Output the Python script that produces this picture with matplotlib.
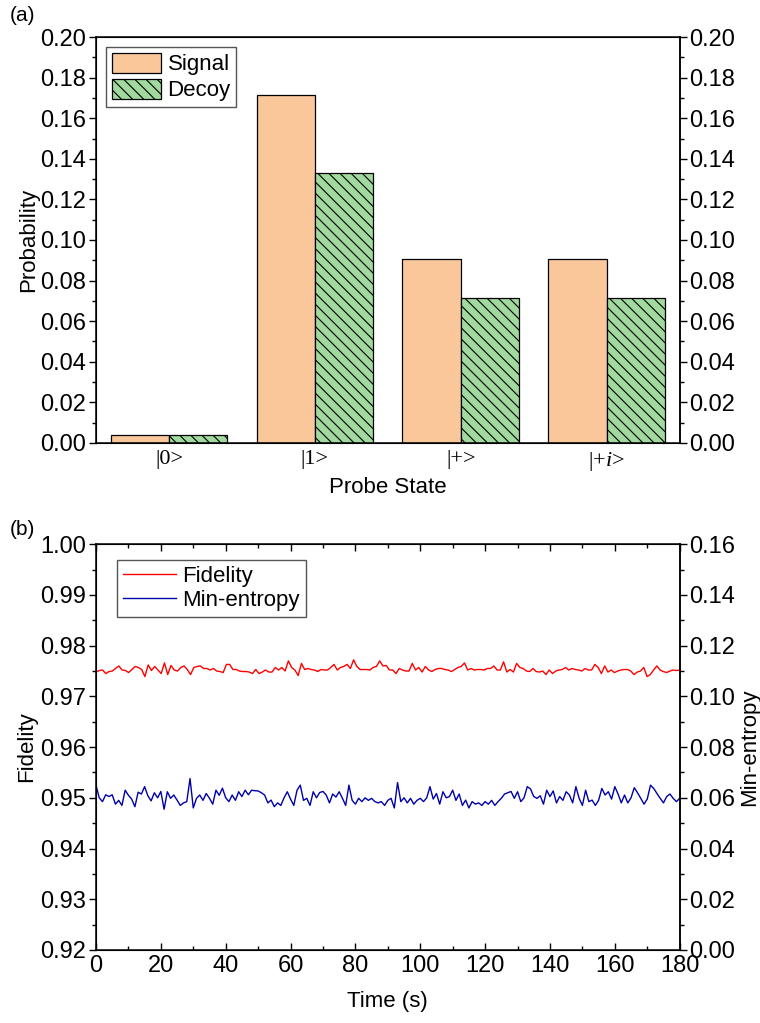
import numpy as np
import matplotlib
matplotlib.use("Agg")
import matplotlib.pyplot as plt
from matplotlib.ticker import MultipleLocator, FormatStrFormatter

plt.rcParams["font.family"] = ["Liberation Sans", "DejaVu Sans"]
plt.rcParams["mathtext.fontset"] = "custom"
plt.rcParams["mathtext.rm"] = "Liberation Serif"
plt.rcParams["mathtext.it"] = "Liberation Serif:italic"
plt.rcParams["hatch.linewidth"] = 0.8

# ---- panel (a) data ----
states = ["|0>", "|1>", "|+>", r"|+$\mathit{i}$>"]
signal = [0.004, 0.1715, 0.0905, 0.0905]
decoy = [0.004, 0.133, 0.0715, 0.0715]

# ---- panel (b) data (1 s steps) ----
fidelity = [
    0.9748, 0.9751, 0.9752, 0.9745, 0.9749, 0.9750, 0.9755, 0.9760, 0.9752, 0.9751,
    0.9747, 0.9753, 0.9759, 0.9757, 0.9753, 0.9739, 0.9762, 0.9751, 0.9759, 0.9752,
    0.9745, 0.9766, 0.9743, 0.9761, 0.9752, 0.9750, 0.9757, 0.9760, 0.9753, 0.9743,
    0.9757, 0.9759, 0.9760, 0.9755, 0.9755, 0.9752, 0.9755, 0.9750, 0.9749, 0.9747,
    0.9763, 0.9763, 0.9753, 0.9753, 0.9750, 0.9749, 0.9749, 0.9748, 0.9745, 0.9753,
    0.9745, 0.9748, 0.9752, 0.9748, 0.9748, 0.9757, 0.9752, 0.9757, 0.9750, 0.9770,
    0.9757, 0.9752, 0.9741, 0.9765, 0.9753, 0.9755, 0.9753, 0.9752, 0.9749, 0.9753,
    0.9752, 0.9752, 0.9757, 0.9763, 0.9752, 0.9757, 0.9759, 0.9763, 0.9755, 0.9772,
    0.9759, 0.9753, 0.9753, 0.9753, 0.9752, 0.9757, 0.9759, 0.9770, 0.9760, 0.9761,
    0.9752, 0.9752, 0.9745, 0.9755, 0.9752, 0.9750, 0.9750, 0.9765, 0.9752, 0.9757,
    0.9748, 0.9759, 0.9752, 0.9749, 0.9753, 0.9755, 0.9755, 0.9753, 0.9752, 0.9749,
    0.9753, 0.9757, 0.9759, 0.9766, 0.9752, 0.9755, 0.9752, 0.9753,
    0.9753, 0.9752, 0.9755, 0.9755, 0.9760, 0.9752, 0.9752, 0.9768, 0.9748, 0.9753,
    0.9748, 0.9765, 0.9757, 0.9755, 0.9750, 0.9749, 0.9755, 0.9749, 0.9748, 0.9750,
    0.9743, 0.9752, 0.9745, 0.9750, 0.9752, 0.9753, 0.9757, 0.9752, 0.9755, 0.9753,
    0.9752, 0.9750, 0.9755, 0.9752, 0.9752, 0.9763, 0.9757, 0.9745, 0.9760, 0.9748,
    0.9752, 0.9747, 0.9750, 0.9752, 0.9753, 0.9753, 0.9750, 0.9743, 0.9748, 0.9750,
    0.9757, 0.9739, 0.9743, 0.9752, 0.9760, 0.9752, 0.9749, 0.9747, 0.9750, 0.9752,
    0.9751, 0.9752,
]
min_entropy = [
    0.0650, 0.0600, 0.0585, 0.0612, 0.0605, 0.0612, 0.0575, 0.0590, 0.0570, 0.0630,
    0.0610, 0.0595, 0.0565, 0.0622, 0.0615, 0.0644, 0.0608, 0.0588, 0.0620, 0.0600,
    0.0625, 0.0555, 0.0624, 0.0598, 0.0611, 0.0591, 0.0570, 0.0580, 0.0585, 0.0676,
    0.0560, 0.0598, 0.0611, 0.0590, 0.0617, 0.0598, 0.0575, 0.0630, 0.0610, 0.0638,
    0.0600, 0.0585, 0.0611, 0.0590, 0.0624, 0.0605, 0.0630, 0.0612, 0.0630, 0.0628,
    0.0627, 0.0620, 0.0611, 0.0580, 0.0591, 0.0565, 0.0580, 0.0570, 0.0600, 0.0624,
    0.0595, 0.0570, 0.0630, 0.0650, 0.0590, 0.0598, 0.0570, 0.0624, 0.0600, 0.0621,
    0.0625, 0.0611, 0.0580, 0.0615, 0.0603, 0.0624, 0.0598, 0.0570, 0.0650, 0.0590,
    0.0575, 0.0598, 0.0585, 0.0600, 0.0590, 0.0598, 0.0585, 0.0580, 0.0585, 0.0570,
    0.0590, 0.0598, 0.0560, 0.0660, 0.0585, 0.0600, 0.0580, 0.0598, 0.0575, 0.0590,
    0.0598, 0.0585, 0.0600, 0.0644, 0.0595, 0.0617, 0.0575, 0.0624, 0.0600, 0.0605,
    0.0630, 0.0590, 0.0615, 0.0570, 0.0591, 0.0560, 0.0585, 0.0575,
    0.0580, 0.0570, 0.0585, 0.0575, 0.0590, 0.0570, 0.0585, 0.0598, 0.0615, 0.0620,
    0.0625, 0.0598, 0.0624, 0.0585, 0.0600, 0.0644, 0.0635, 0.0605, 0.0598, 0.0608,
    0.0575, 0.0630, 0.0605, 0.0627, 0.0580, 0.0605, 0.0590, 0.0624, 0.0611, 0.0580,
    0.0644, 0.0598, 0.0570, 0.0630, 0.0585, 0.0591, 0.0570, 0.0590, 0.0637, 0.0611,
    0.0624, 0.0595, 0.0644, 0.0615, 0.0580, 0.0611, 0.0580, 0.0600, 0.0640, 0.0620,
    0.0598, 0.0575, 0.0595, 0.0650, 0.0637, 0.0617, 0.0598, 0.0580, 0.0605, 0.0615,
    0.0598, 0.0585, 0.0598,
]
t_fid = np.linspace(0, 180, len(fidelity))
t_ent = np.linspace(0, 180, len(min_entropy))

FS = 17       # tick labels
LFS = 16      # axis labels / legends
fig = plt.figure(figsize=(7.6, 10.23), dpi=100)

# ================= (a) =================
ax1 = fig.add_axes([0.1263, 0.567, 0.768, 0.3968])
x = np.arange(1, len(states) + 1)
w = 0.4
ax1.bar(x - w / 2, signal, w, color="#F9C79A", edgecolor="black", linewidth=0.9, label="Signal")
ax1.bar(x + w / 2, decoy, w, color="#A1D99E", edgecolor="black", linewidth=0.9,
        hatch="\\\\\\", label="Decoy")
ax1.set_xlim(0.5, 4.5)
ax1.set_ylim(0, 0.2)
ax1.set_xticks(x)
ax1.set_xticklabels(states, family="Liberation Serif", fontsize=LFS)
ax1.tick_params(axis="x", length=0, pad=5)
ax1.yaxis.set_major_locator(MultipleLocator(0.02))
ax1.yaxis.set_minor_locator(MultipleLocator(0.01))
ax1.yaxis.set_major_formatter(FormatStrFormatter("%.2f"))
ax1.tick_params(axis="y", which="major", direction="out", length=5, width=1, labelsize=FS, pad=2)
ax1.tick_params(axis="y", which="minor", direction="out", length=3, width=1)
ax1.set_xlabel("Probe State", fontsize=LFS, labelpad=3)
ax1.set_ylabel("Probability", fontsize=LFS, labelpad=1)
for s in ax1.spines.values():
    s.set_linewidth(1.1)
ax1r = ax1.twinx()
ax1r.set_ylim(0, 0.2)
ax1r.yaxis.set_major_locator(MultipleLocator(0.02))
ax1r.yaxis.set_minor_locator(MultipleLocator(0.01))
ax1r.yaxis.set_major_formatter(FormatStrFormatter("%.2f"))
ax1r.tick_params(axis="y", which="major", direction="out", length=5, width=1, labelsize=FS, pad=2)
ax1r.tick_params(axis="y", which="minor", direction="out", length=3, width=1)
ax1r.spines["right"].set_linewidth(1.1)
leg = ax1.legend(loc="upper left", bbox_to_anchor=(0.018, 0.975), borderaxespad=0,
                 fontsize=LFS, fancybox=False, framealpha=1, edgecolor="#555555",
                 handlelength=2.2, handleheight=1.0, handletextpad=0.3,
                 borderpad=0.25, labelspacing=0.15)
leg.get_frame().set_linewidth(1.0)

# ================= (b) =================
ax2 = fig.add_axes([0.1263, 0.0714, 0.768, 0.3966])
l1, = ax2.plot(t_fid, fidelity, color="#FF0000", linewidth=1.0, label="Fidelity")
ax2.set_xlim(0, 180)
ax2.set_ylim(0.92, 1.0)
ax2.xaxis.set_major_locator(MultipleLocator(20))
ax2.xaxis.set_minor_locator(MultipleLocator(10))
ax2.yaxis.set_major_locator(MultipleLocator(0.01))
ax2.yaxis.set_minor_locator(MultipleLocator(0.005))
ax2.yaxis.set_major_formatter(FormatStrFormatter("%.2f"))
ax2.tick_params(axis="x", which="major", direction="in", top=True, length=5, width=1, labelsize=FS)
ax2.tick_params(axis="x", which="minor", direction="in", top=True, length=3, width=1)
ax2.tick_params(axis="y", which="major", direction="out", length=5, width=1, labelsize=FS, pad=2)
ax2.tick_params(axis="y", which="minor", direction="out", length=3, width=1)
ax2.set_xlabel("Time (s)", fontsize=LFS, labelpad=10)
ax2.set_ylabel("Fidelity", fontsize=LFS, labelpad=2)
for s in ax2.spines.values():
    s.set_linewidth(1.1)
ax2r = ax2.twinx()
l2, = ax2r.plot(t_ent, min_entropy, color="#0000AA", linewidth=1.0, label="Min-entropy")
ax2r.set_ylim(0, 0.16)
ax2r.yaxis.set_major_locator(MultipleLocator(0.02))
ax2r.yaxis.set_minor_locator(MultipleLocator(0.01))
ax2r.yaxis.set_major_formatter(FormatStrFormatter("%.2f"))
ax2r.tick_params(axis="y", which="major", direction="out", length=5, width=1, labelsize=FS, pad=2)
ax2r.tick_params(axis="y", which="minor", direction="out", length=3, width=1)
ax2r.set_ylabel("Min-entropy", fontsize=LFS, labelpad=3)
ax2r.spines["right"].set_linewidth(1.1)
leg2 = ax2.legend(handles=[l1, l2], loc="upper left", bbox_to_anchor=(0.036, 0.961),
                  borderaxespad=0, fontsize=LFS, fancybox=False, framealpha=1,
                  edgecolor="#555555", handlelength=2.4, handletextpad=0.3,
                  borderpad=0.25, labelspacing=0.15)
leg2.get_frame().set_linewidth(1.0)

fig.text(0.013, 0.985, "(a)", fontsize=15, ha="left", va="center")
fig.text(0.013, 0.482, "(b)", fontsize=15, ha="left", va="center")

fig.savefig("out.png", dpi=100)
